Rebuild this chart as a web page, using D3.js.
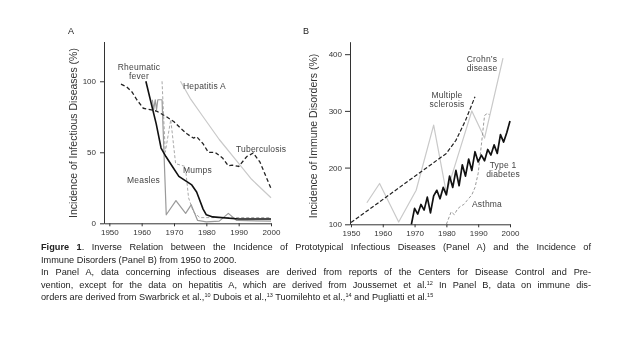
<!DOCTYPE html>
<html>
<head>
<meta charset="utf-8">
<script src="https://cdn.jsdelivr.net/npm/d3@7"></script>
<style>
  body { margin: 0; background: #fff; }
  svg { display: block; font-family: "Liberation Sans", Arial, sans-serif; will-change: transform; }
  .axis path, .axis line { stroke: #333; stroke-width: 1; }
  .axis text { fill: #333; font-size: 8px; }
  .lbl { fill: #444; font-size: 8.5px; letter-spacing: 0.2px; }
</style>
</head>
<body>
<div id="chart"></div>
<script>

// ---- data (year, value) ----
var yearTicks = [1950, 1960, 1970, 1980, 1990, 2000];
var ticksA = [0, 50, 100];
var ticksB = [100, 200, 300, 400];

// Panel A: infectious diseases (%)
var tuberculosis = [[1953.6,98],[1955.4,96],[1957,92.5],[1958.5,87],[1960.5,81],[1962.6,80],[1964.6,79],
  [1967.7,75],[1970,71.5],[1972,67],[1974,63],[1976,60],[1977,61],[1979,56],[1980.6,50],[1982.7,50],
  [1985,46],[1986.8,40.5],[1988,41],[1990,40],[1992.5,47],[1994.5,49.5],[1996.6,43],[2000,24.5]];
var hepatitisA = [[1972,100],[1975,88],[1979,75],[1984,59],[1989,45],[1994,31],[2000,18]];
var rheumaticFever = [[1961.3,100],[1963,84],[1964.5,70],[1966,53],[1967.5,47],[1969.5,40],[1971.5,33],
  [1973.5,30],[1975.5,27],[1977,22],[1979,10],[1980,6],[1982,4.5],[1990,3],[2000,3]];
var measles = [[1963.3,87],[1963.7,80],[1964.2,87],[1964.6,80],[1965,87],[1966.3,87],[1967.6,6],
  [1970.6,16],[1973.6,7],[1975.3,13],[1977.3,2],[1980,1],[1984,1.5],[1986.8,7],[1989.4,2],[2000,1.5]];
var mumps = [[1966.3,100],[1967.3,50],[1969,73],[1970.5,42],[1973.5,40],[1974.5,18],[1976,8],
  [1978,4],[2000,4]];

// Panel B: immune disorders (%)
var multipleSclerosis = [[1950,103],[1980,225],[1983,248],[1986,283],[1989,325]];
var crohns = [[1955,138],[1959,172],[1965,104],[1970.5,160],[1976,275],[1980,155],[1988,300],
  [1992,252],[1997.8,393]];
var type1Diabetes = [[1969,100],[1970,128],[1971,118],[1972,135],[1973,125],[1974,148],[1975,120],
  [1976,150],[1977,160],[1978,145],[1979,165],[1980,152],[1981,185],[1982,165],[1983,195],[1984,168],
  [1985,205],[1986,185],[1987,215],[1988,195],[1989,228],[1990,210],[1991,222],[1992,212],[1993,232],
  [1994,222],[1995,240],[1996,225],[1997,258],[1998,245],[1999,262],[2000,282]];
var asthma = [[1980,100],[1981.5,122],[1982.5,117],[1983.5,127],[1984.5,132],[1985.5,135],[1986.5,142],
  [1988,152],[1989,165],[1990,190],[1991,240],[1992,292],[1993,296],[1993.5,293]];

// caption; ^n marks a superscript reference number
var captionLines = [
  "Figure 1. Inverse Relation between the Incidence of Prototypical Infectious Diseases (Panel A) and the Incidence of",
  "Immune Disorders (Panel B) from 1950 to 2000.",
  "In Panel A, data concerning infectious diseases are derived from reports of the Centers for Disease Control and Pre-",
  "vention, except for the data on hepatitis A, which are derived from Joussemet et al.^12 In Panel B, data on immune dis-",
  "orders are derived from Swarbrick et al.,^10 Dubois et al.,^13 Tuomilehto et al.,^14 and Pugliatti et al.^15"
];

var width = 631, height = 352;
var svg = d3.select("#chart").append("svg")
    .attr("width", width)
    .attr("height", height);

// ---- Panel A ----
var xA = d3.scaleLinear().domain([1948.35, 2000]).range([104, 271]);
var yA = d3.scaleLinear().domain([0, 128]).range([223.3, 41.5]);

svg.append("g")
    .attr("class", "axis")
    .attr("transform", "translate(0," + yA(0) + ")")
    .call(d3.axisBottom(xA).tickValues(yearTicks).tickFormat(d3.format("d")).tickSize(3).tickSizeOuter(0).tickPadding(3));
svg.append("g")
    .attr("class", "axis")
    .attr("transform", "translate(" + xA.range()[0] + ",0)")
    .call(d3.axisLeft(yA).tickValues(ticksA).tickSize(4).tickSizeOuter(0).tickPadding(4));

var lineA = d3.line().x(function(d) { return xA(d[0]); }).y(function(d) { return yA(d[1]); });

function drawA(data, color, w, dash) {
  svg.append("path")
      .datum(data)
      .attr("fill", "none")
      .attr("stroke", color)
      .attr("stroke-width", w)
      .attr("stroke-dasharray", dash)
      .attr("stroke-linejoin", "round")
      .attr("d", lineA);
}
drawA(hepatitisA, "#c9c9c9", 1.2, null);
drawA(mumps, "#a8a8a8", 1, "3,2");
drawA(measles, "#9a9a9a", 1.2, null);
drawA(tuberculosis, "#222", 1.3, "4,2.5");
drawA(rheumaticFever, "#111", 1.6, null);

svg.append("text").attr("x", 68).attr("y", 34).attr("font-size", 9).attr("fill", "#222").text("A");
svg.append("text")
    .attr("transform", "translate(77,133) rotate(-90)")
    .attr("text-anchor", "middle")
    .attr("font-size", 10.5)
    .attr("fill", "#333")
    .text("Incidence of Infectious Diseases (%)");

var labelsA = [
  {t: ["Rheumatic", "fever"], x: 139, y: 70, anchor: "middle"},
  {t: ["Hepatitis A"], x: 183, y: 89, anchor: "start"},
  {t: ["Tuberculosis"], x: 236, y: 152, anchor: "start"},
  {t: ["Mumps"], x: 183, y: 173, anchor: "start"},
  {t: ["Measles"], x: 127, y: 183, anchor: "start"}
];

// ---- Panel B ----
var xB = d3.scaleLinear().domain([1949.7, 2000]).range([350, 510]);
var yB = d3.scaleLinear().domain([100, 422]).range([224.3, 41.7]);

svg.append("g")
    .attr("class", "axis")
    .attr("transform", "translate(0," + yB(100) + ")")
    .call(d3.axisBottom(xB).tickValues(yearTicks).tickFormat(d3.format("d")).tickSize(3).tickSizeOuter(0).tickPadding(3));
svg.append("g")
    .attr("class", "axis")
    .attr("transform", "translate(" + xB.range()[0] + ",0)")
    .call(d3.axisLeft(yB).tickValues(ticksB).tickSize(5).tickSizeOuter(0).tickPadding(3));

var lineB = d3.line().x(function(d) { return xB(d[0]); }).y(function(d) { return yB(d[1]); });

function drawB(data, color, w, dash) {
  svg.append("path")
      .datum(data)
      .attr("fill", "none")
      .attr("stroke", color)
      .attr("stroke-width", w)
      .attr("stroke-dasharray", dash)
      .attr("stroke-linejoin", "round")
      .attr("d", lineB);
}
drawB(crohns, "#c9c9c9", 1.2, null);
drawB(asthma, "#9a9a9a", 1, "3,2");
drawB(multipleSclerosis, "#222", 1.2, "4,2");
drawB(type1Diabetes, "#111", 1.7, null);

svg.append("text").attr("x", 303).attr("y", 34).attr("font-size", 9).attr("fill", "#222").text("B");
svg.append("text")
    .attr("transform", "translate(317,136) rotate(-90)")
    .attr("text-anchor", "middle")
    .attr("font-size", 10.5)
    .attr("fill", "#333")
    .text("Incidence of Immune Disorders (%)");

var labelsB = [
  {t: ["Crohn\u2019s", "disease"], x: 482, y: 62, anchor: "middle"},
  {t: ["Multiple", "sclerosis"], x: 447, y: 98, anchor: "middle"},
  {t: ["Type 1", "diabetes"], x: 503, y: 168, anchor: "middle"},
  {t: ["Asthma"], x: 472, y: 207, anchor: "start"}
];

labelsA.concat(labelsB).forEach(function(l) {
  var t = svg.append("text")
      .attr("class", "lbl")
      .attr("text-anchor", l.anchor);
  l.t.forEach(function(s, i) {
    t.append("tspan").attr("x", l.x).attr("y", l.y + i * 9).text(s);
  });
});

// ---- caption ----
var capX = 41, capW = 550, capY = 250, capStep = 12.5;
var justify = [true, false, true, true, false];

captionLines.forEach(function(line, i) {
  var t = svg.append("text")
      .attr("x", capX)
      .attr("y", capY + i * capStep)
      .attr("font-size", 9.2)
      .attr("fill", "#222");
  if (i === 0) {
    t.append("tspan").attr("font-weight", "bold").text("Figure 1");
    t.append("tspan").text(line.slice(8));
  } else {
    line.split(/(\^\d+)/).forEach(function(p) {
      if (p.charAt(0) === "^") {
        t.append("tspan")
            .attr("font-size", 5.5)
            .attr("baseline-shift", "super")
            .text(p.slice(1));
      } else if (p.length) {
        t.append("tspan").text(p);
      }
    });
  }
  if (justify[i]) {
    var len = t.node().getComputedTextLength();
    var spaces = (line.match(/ /g) || []).length;
    if (spaces > 0) t.attr("word-spacing", Math.max(0, (capW - len) / spaces));
  }
});

</script>
</body>
</html>
